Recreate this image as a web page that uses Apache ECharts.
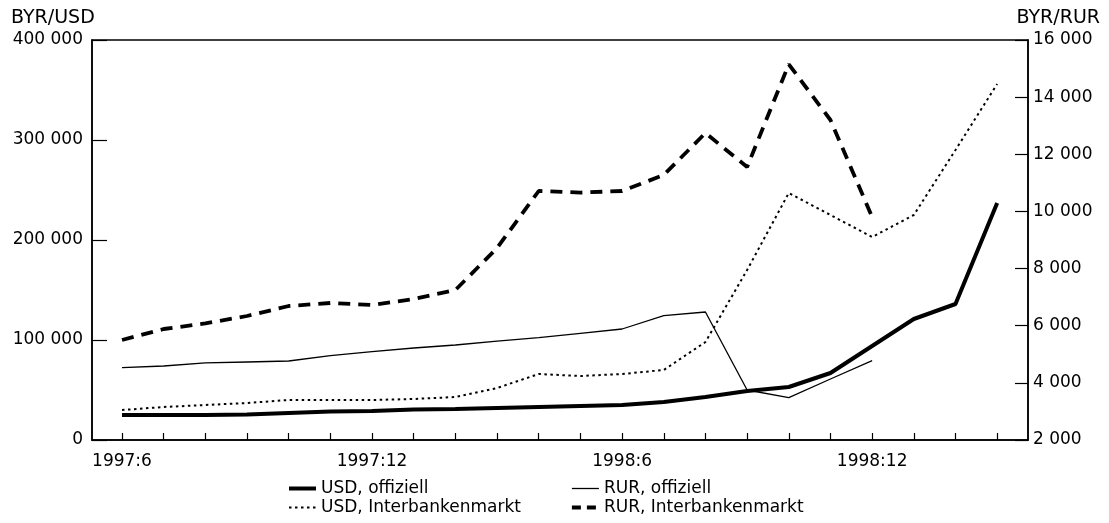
<!DOCTYPE html>
<html>
<head>
<meta charset="utf-8">
<script src="https://cdn.jsdelivr.net/npm/echarts@6/dist/echarts.min.js"></script>
<style>
html,body{margin:0;padding:0;background:#fff;}
#chart{width:1109px;height:523px;}
</style>
</head>
<body>
<div id="chart"></div>
<script>
// Months: 1997:6 ... 1999:3 (index 0..21)
var months = ['1997:6','1997:7','1997:8','1997:9','1997:10','1997:11','1997:12',
  '1998:1','1998:2','1998:3','1998:4','1998:5','1998:6','1998:7','1998:8','1998:9',
  '1998:10','1998:11','1998:12','1999:1','1999:2','1999:3'];
var xTickLabels = ['1997:6','1997:12','1998:6','1998:12'];

// BYR/USD (left axis)
var usdOfficial = [25000, 25000, 25000, 25500, 27000, 28500, 29000, 30500, 31000, 32000, 33000,
  34000, 35000, 38000, 43000, 49000, 53000, 67000, 94000, 121000, 136000, 237000];
var usdInterbank = [30000, 33000, 35000, 37000, 40000, 40000, 40000, 41000, 43000, 52000, 66000,
  64000, 66000, 70000, 98000, 170000, 247000, 225000, 203000, 225000, 290000, 356000];

// BYR/RUR (right axis)
var rurOfficial = [4530, 4590, 4700, 4730, 4765, 4950, 5090, 5220, 5325, 5460, 5580,
  5735, 5885, 6350, 6480, 3750, 3480, 4135, 4775];
var rurInterbank = [5500, 5885, 6080, 6340, 6690, 6795, 6725, 6935, 7250, 8720, 10715,
  10660, 10715, 11275, 12745, 11555, 15150, 13200, 9805];

var seriesNames = ['USD, offiziell', 'RUR, offiziell', 'USD, Interbankenmarkt', 'RUR, Interbankenmarkt'];

var styles = [
  { color: '#000', width: 4, type: 'solid' },
  { color: '#000', width: 1.3, type: 'solid' },
  { color: '#000', width: 2, type: [2.5, 3.5] },
  { color: '#000', width: 3.8, type: [9, 6] }
];
var seriesStyles = [
  styles[0], styles[1], styles[2], { color: '#000', width: 3.8, type: [12, 8] }
];

function pairs(arr) { return arr.map(function (v, i) { return [i, v]; }); }
function fmtThousands(v) { return String(v).replace(/\B(?=(\d{3})+(?!\d))/g, ' '); }

var FONT = 'DejaVu Sans';
var txt = { fontFamily: FONT, fontSize: 17, color: '#000', lineHeight: 19 };

var tickIdx = months.map(function (m, i) { return i; });
var labelIdx = xTickLabels.map(function (l) { return months.indexOf(l); });

function legendItem(i) { return { name: seriesNames[i], lineStyle: styles[i] }; }

var legendCommon = {
  orient: 'vertical', top: 479, padding: 0, itemWidth: 27, itemHeight: 12, itemGap: 0,
  textStyle: txt, inactiveColor: '#000', itemStyle: { opacity: 0 }, selectedMode: false
};

var chart = echarts.init(document.getElementById('chart'), null, { renderer: 'canvas' });
chart.setOption({
  backgroundColor: '#fff',
  animation: false,
  title: [
    { text: 'BYR/USD', left: 11, top: 9, padding: 0, textStyle: { fontFamily: FONT, fontSize: 19, fontWeight: 'normal', color: '#000' } },
    { text: 'BYR/RUR', right: 9, top: 9, padding: 0, textStyle: { fontFamily: FONT, fontSize: 19, fontWeight: 'normal', color: '#000' } }
  ],
  grid: { left: 92, right: 81, top: 40, bottom: 83, show: true, borderColor: '#000', borderWidth: 1.5, backgroundColor: 'transparent' },
  legend: [
    Object.assign({ data: [legendItem(0), legendItem(2)], left: 287 }, legendCommon),
    Object.assign({ data: [legendItem(1), legendItem(3)], left: 570 }, legendCommon)
  ],
  xAxis: {
    type: 'value', min: -0.72, max: 21.74,
    axisLine: { show: true, onZero: false, lineStyle: { color: '#000', width: 1.5 } },
    axisTick: { show: true, inside: true, length: 7, customValues: tickIdx, lineStyle: { color: '#000', width: 1.2 } },
    axisLabel: { customValues: labelIdx, margin: 13, fontFamily: FONT, fontSize: 17, color: '#000',
      formatter: function (v) { return months[Math.round(v)] || ''; } },
    splitLine: { show: false }
  },
  yAxis: [
    { type: 'value', min: 0, max: 400000, interval: 100000, position: 'left',
      axisLine: { show: true, onZero: false, lineStyle: { color: '#000', width: 1.5 } },
      axisTick: { show: true, inside: true, length: 15, lineStyle: { color: '#000', width: 1.2 } },
      axisLabel: { margin: 9, fontFamily: FONT, fontSize: 17, color: '#000', formatter: function (v) { return fmtThousands(v); } },
      splitLine: { show: false } },
    { type: 'value', min: 2000, max: 16000, interval: 2000, position: 'right',
      axisLine: { show: true, onZero: false, lineStyle: { color: '#000', width: 1.5 } },
      axisTick: { show: true, inside: true, length: 13, lineStyle: { color: '#000', width: 1.2 } },
      axisLabel: { margin: 5, fontFamily: FONT, fontSize: 17, color: '#000', formatter: function (v) { return fmtThousands(v); } },
      splitLine: { show: false } }
  ],
  series: [
    { name: seriesNames[0], type: 'line', yAxisIndex: 0, data: pairs(usdOfficial), symbol: 'none',
      lineStyle: seriesStyles[0], itemStyle: { color: '#000' } },
    { name: seriesNames[1], type: 'line', yAxisIndex: 1, data: pairs(rurOfficial), symbol: 'none',
      lineStyle: seriesStyles[1], itemStyle: { color: '#000' } },
    { name: seriesNames[2], type: 'line', yAxisIndex: 0, data: pairs(usdInterbank), symbol: 'none',
      lineStyle: seriesStyles[2], itemStyle: { color: '#000' } },
    { name: seriesNames[3], type: 'line', yAxisIndex: 1, data: pairs(rurInterbank), symbol: 'none',
      lineStyle: seriesStyles[3], itemStyle: { color: '#000' } }
  ]
});
</script>
</body>
</html>
